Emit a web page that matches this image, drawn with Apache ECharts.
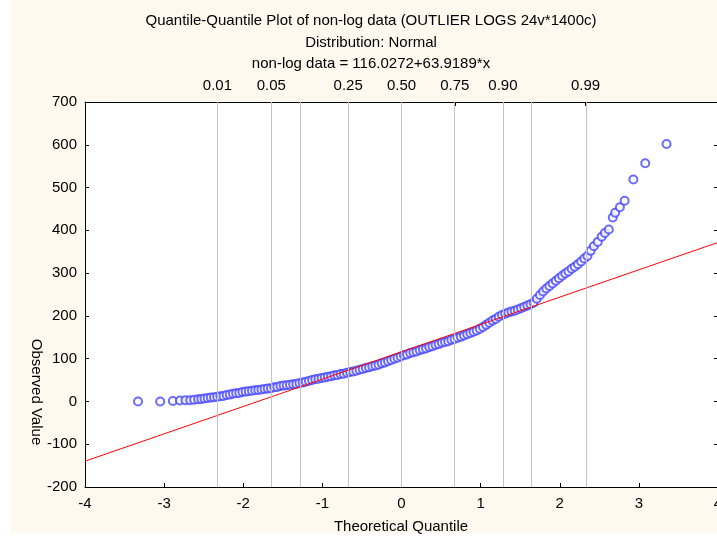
<!DOCTYPE html>
<html>
<head>
<meta charset="utf-8">
<script src="https://cdn.jsdelivr.net/npm/echarts@6/dist/echarts.min.js"></script>
<style>
  html, body { margin: 0; padding: 0; background: #ffffff; }
  #chart { width: 717px; height: 539px; }
</style>
</head>
<body>
<div id="chart"></div>
<script>
// Normal Q-Q plot: theoretical quantile (x) vs observed value (y)
const theoQuantile = [
  -3.33, -3.05, -2.89, -2.80, -2.73, -2.67, -2.62, -2.57, -2.53, -2.49,
  -2.45, -2.41, -2.37, -2.33, -2.29, -2.25, -2.21, -2.17, -2.13, -2.09,
  -2.05, -2.01, -1.97, -1.93, -1.89, -1.85, -1.81, -1.77, -1.73, -1.69,
  -1.65, -1.61, -1.57, -1.53, -1.49, -1.45, -1.41, -1.37, -1.33, -1.29,
  -1.25, -1.21, -1.17, -1.13, -1.09, -1.05, -1.01, -0.97, -0.93, -0.89,
  -0.85, -0.81, -0.77, -0.73, -0.69, -0.65, -0.61, -0.57, -0.53, -0.49,
  -0.45, -0.41, -0.37, -0.33, -0.29, -0.25, -0.21, -0.17, -0.13, -0.09,
  -0.05, -0.01, 0.03, 0.07, 0.11, 0.15, 0.19, 0.23, 0.27, 0.31,
  0.35, 0.39, 0.43, 0.47, 0.51, 0.55, 0.59, 0.63, 0.67, 0.71,
  0.75, 0.79, 0.83, 0.87, 0.91, 0.95, 0.99, 1.03, 1.07, 1.11,
  1.15, 1.19, 1.23, 1.27, 1.31, 1.35, 1.39, 1.43, 1.47, 1.51,
  1.55, 1.59, 1.63, 1.67, 1.71, 1.75, 1.79, 1.83, 1.87, 1.91,
  1.95, 1.99, 2.03, 2.07, 2.11, 2.15, 2.19, 2.23, 2.27, 2.31,
  2.35, 2.39, 2.43, 2.48, 2.53, 2.57, 2.62, 2.67, 2.70, 2.76,
  2.82, 2.93, 3.08, 3.35
];
const observedValue = [
  0, 0, 1, 2, 3, 3, 4, 5, 6, 7,
  8, 9, 10, 11, 12, 13, 15, 16, 18, 19,
  20, 22, 23, 24, 25, 26, 27, 28, 29, 30,
  31, 33, 34, 36, 37, 38, 39, 40, 41, 43,
  44, 46, 48, 50, 52, 53, 55, 56, 58, 59,
  61, 62, 64, 65, 67, 69, 70, 72, 74, 76,
  78, 80, 82, 84, 86, 89, 91, 94, 97, 100,
  102, 105, 108, 110, 113, 115, 117, 120, 122, 124,
  127, 129, 132, 134, 137, 139, 141, 144, 146, 149,
  151, 154, 157, 160, 163, 166, 170, 174, 179, 184,
  189, 193, 198, 202, 205, 208, 210, 212, 215, 218,
  221, 224, 227, 231, 240, 249, 257, 264, 270, 276,
  282, 288, 294, 299, 304, 310, 315, 321, 327, 334,
  340, 352, 363, 373, 385, 394, 402, 430, 441, 454,
  469, 519, 557, 602
];

// Fitted reference line: non-log data = intercept + slope * x
const fitIntercept = 116.0272;
const fitSlope = 63.9189;
const fitRange = [-4, 4];

// Cumulative probabilities shown on the top axis and their normal quantiles
const probLabels = ['0.01', '0.05', '0.25', '0.50', '0.75', '0.90', '0.99'];
const probZ = [-2.3263, -1.6449, -0.6745, 0, 0.6745, 1.2816, 2.3263];
const probTickZ = [-2.3263, -1.6449, -1.2816, -0.6745, 0, 0.6745, 1.2816, 1.6449, 2.3263];

const xTicks = { min: -4, max: 4, step: 1 };
const yTicks = { min: -200, max: 700, step: 100 };

const titleLines = [
  'Quantile-Quantile Plot of non-log data (OUTLIER LOGS 24v*1400c)',
  'Distribution: Normal',
  'non-log data = ' + fitIntercept.toFixed(4) + '+' + fitSlope.toFixed(4) + '*x'
];

const FONT = 'Liberation Sans, Arial, sans-serif';
const chart = echarts.init(document.getElementById('chart'), null, { renderer: 'canvas' });

const points = theoQuantile.map((x, i) => [x, observedValue[i]]);
const fitLine = fitRange.map(x => [x, fitIntercept + fitSlope * x]);

const axisLineStyle = { show: true, onZero: false, lineStyle: { color: '#000', width: 1 } };
const tickStyle = { show: true, inside: true, length: 4, lineStyle: { color: '#000', width: 1 } };
const labelStyle = { color: '#000', fontSize: 15, fontFamily: FONT };

chart.setOption({
  backgroundColor: '#fdf9ef',
  animation: false,
  grid: {
    left: 85, right: -1, top: 102, bottom: 52,
    outerBoundsMode: 'none', containLabel: false,
    show: true, backgroundColor: '#ffffff', borderWidth: 0
  },
  xAxis: [
    {
      type: 'value', position: 'bottom',
      min: xTicks.min, max: xTicks.max, interval: xTicks.step,
      axisLine: axisLineStyle, axisTick: tickStyle,
      axisLabel: Object.assign({ margin: 9 }, labelStyle),
      splitLine: { show: false }
    },
    {
      type: 'value', position: 'top',
      min: xTicks.min, max: xTicks.max,
      axisLine: axisLineStyle,
      axisTick: Object.assign({ customValues: probTickZ }, tickStyle),
      axisLabel: Object.assign({
        margin: 9,
        customValues: probZ,
        formatter: v => {
          const i = probZ.findIndex(z => Math.abs(z - v) < 1e-6);
          return i >= 0 ? probLabels[i] : '';
        }
      }, labelStyle),
      splitLine: { show: false }
    }
  ],
  yAxis: [
    {
      type: 'value', position: 'left',
      min: yTicks.min, max: yTicks.max, interval: yTicks.step,
      axisLine: axisLineStyle, axisTick: tickStyle,
      axisLabel: Object.assign({ margin: 8 }, labelStyle),
      splitLine: { show: false }
    },
    {
      type: 'value', position: 'right',
      min: yTicks.min, max: yTicks.max, interval: yTicks.step,
      axisLine: axisLineStyle, axisTick: tickStyle,
      axisLabel: { show: false },
      splitLine: { show: false }
    }
  ],
  graphic: [
    { type: 'rect', shape: { x: 0, y: 0, width: 11, height: 539 }, style: { fill: '#ffffff' }, silent: true },
    { type: 'rect', shape: { x: 0, y: 533, width: 717, height: 6 }, style: { fill: '#ffffff' }, silent: true },
    ...titleLines.map((t, i) => ({
      type: 'text', x: 371, y: 21 + i * 21.5,
      style: { text: t, fill: '#000', font: '15px ' + FONT, textAlign: 'center', textVerticalAlign: 'middle' }
    })),
    {
      type: 'text', x: 401, y: 527,
      style: { text: 'Theoretical Quantile', fill: '#000', font: '15px ' + FONT, textAlign: 'center', textVerticalAlign: 'middle' }
    },
    {
      type: 'text', x: 36, y: 392, rotation: -Math.PI / 2,
      style: { text: 'Observed Value', fill: '#000', font: '15px ' + FONT, textAlign: 'center', textVerticalAlign: 'middle' }
    }
  ],
  series: [
    {
      // vertical reference lines at the probability quantiles
      type: 'line', xAxisIndex: 0, yAxisIndex: 0, data: [], silent: true, z: 1,
      markLine: {
        silent: true, symbol: 'none', animation: false,
        label: { show: false },
        lineStyle: { color: '#c4c4c4', width: 1, type: 'solid' },
        data: probTickZ.map(z => ({ xAxis: z }))
      }
    },
    {
      type: 'scatter', xAxisIndex: 0, yAxisIndex: 0, z: 3,
      data: points, symbol: 'emptyCircle', symbolSize: 8,
      itemStyle: { color: '#4646ff', borderColor: '#4646ff', borderWidth: 1.2 }
    },
    {
      type: 'line', xAxisIndex: 0, yAxisIndex: 0, z: 4,
      data: fitLine, symbol: 'none',
      lineStyle: { color: '#ff0000', width: 1 }
    }
  ]
});
</script>
</body>
</html>
